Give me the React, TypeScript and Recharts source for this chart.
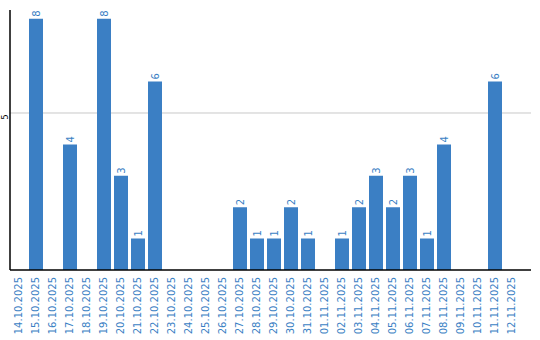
import { BarChart, Bar, XAxis, YAxis, CartesianGrid, LabelList } from 'recharts'

const dates = [
  '14.10.2025', '15.10.2025', '16.10.2025', '17.10.2025', '18.10.2025',
  '19.10.2025', '20.10.2025', '21.10.2025', '22.10.2025', '23.10.2025',
  '24.10.2025', '25.10.2025', '26.10.2025', '27.10.2025', '28.10.2025',
  '29.10.2025', '30.10.2025', '31.10.2025', '01.11.2025', '02.11.2025',
  '03.11.2025', '04.11.2025', '05.11.2025', '06.11.2025', '07.11.2025',
  '08.11.2025', '09.11.2025', '10.11.2025', '11.11.2025', '12.11.2025',
]
const counts = [0, 8, 0, 4, 0, 8, 3, 1, 6, 0, 0, 0, 0, 2, 1, 1, 2, 1, 0, 1, 2, 3, 2, 3, 1, 4, 0, 0, 6, 0]
const yTicks = [5]

const data = dates.map((date, i) => ({ date, count: counts[i] }))

const BLUE = '#3b7fc4'
const FONT = '"DejaVu Sans", Verdana, sans-serif'

const DateTick = (props: any) => {
  const { x, y, payload } = props
  return (
    <text
      transform={`translate(${x},${y - 1}) rotate(-90)`}
      textAnchor="end"
      dy="0.35em"
      fontSize={10}
      fontFamily={FONT}
      fill={BLUE}
    >
      {payload.value}
    </text>
  )
}

const ValueTick = (props: any) => {
  const { y, payload } = props
  return (
    <text
      transform={`translate(5,${y + 4}) rotate(-90)`}
      textAnchor="middle"
      dy="0.35em"
      fontSize={8}
      fontFamily={FONT}
      fill="#000"
    >
      {payload.value}
    </text>
  )
}

const BarValue = (props: any) => {
  const { x, y, width, value } = props
  if (!value) return null
  return (
    <text
      transform={`translate(${x + width / 2},${y - 2}) rotate(-90)`}
      textAnchor="start"
      dy="0.35em"
      fontSize={10}
      fontFamily={FONT}
      fill={BLUE}
    >
      {value}
    </text>
  )
}

export default function App() {
  return (
    <div style={{ position: 'absolute', left: 0, top: 0, background: '#fff' }}>
      <BarChart
        width={540}
        height={340}
        data={data}
        margin={{ top: 10, right: 9, left: 0, bottom: 0 }}
      >
        <CartesianGrid vertical={false} stroke="#c8c8c8" horizontalValues={yTicks} />
        <XAxis
          dataKey="date"
          interval={0}
          tickLine={false}
          axisLine={{ stroke: '#000', strokeWidth: 1.5 }}
          tick={<DateTick />}
          padding={{ left: 0, right: 11 }}
          height={70}
        />
        <YAxis
          width={10}
          domain={[0, 8.28]}
          ticks={yTicks}
          tickLine={false}
          axisLine={{ stroke: '#000', strokeWidth: 1.5 }}
          tick={<ValueTick />}
          allowDataOverflow
        />
        <Bar dataKey="count" fill={BLUE} barSize={14} isAnimationActive={false}>
          <LabelList dataKey="count" content={<BarValue />} />
        </Bar>
      </BarChart>
    </div>
  )
}
